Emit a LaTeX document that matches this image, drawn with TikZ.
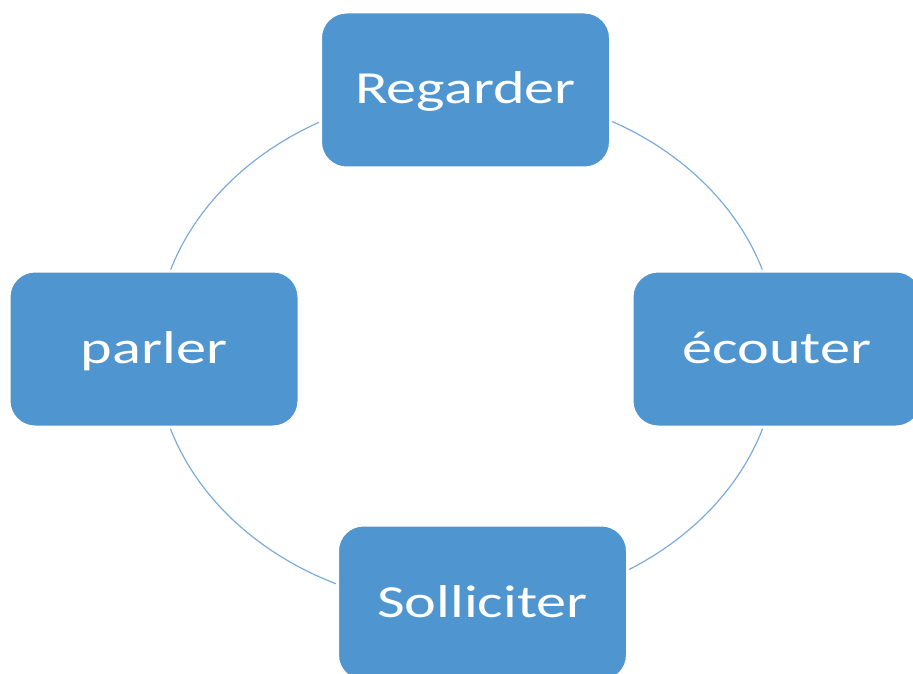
\documentclass[tikz,border=0pt]{standalone}
\usepackage{fontspec}
\usepackage{graphicx}
\setmainfont{Carlito}
\definecolor{boxblue}{RGB}{79,149,208}
\definecolor{ringblue}{RGB}{125,172,220}
\newcommand{\wide}[1]{\scalebox{1.31}[1]{#1}}
\tikzset{
  stage/.style={rectangle, rounded corners=26pt, fill=boxblue, draw=white, line width=3pt,
    minimum width=290pt, minimum height=156pt, inner sep=0pt,
    text=white, font=\fontsize{46}{50}\selectfont, text height=28pt, text depth=0pt},
  cycleline/.style={draw=ringblue, line width=1.2pt}
}
\begin{document}
\begin{tikzpicture}[x=1pt,y=-1pt]
\useasboundingbox (0,0) rectangle (913,674);
\clip (0,0) rectangle (913,674);
\coordinate (ctr) at (466.5,349.5);
\draw[cycleline] (ctr) ellipse [x radius=311, y radius=258];
\node[stage] (regarder) at (465.5,90) {\wide{Regarder}};
\node[stage] (ecouter) at (777,349) {\wide{écouter}};
\node[stage] (solliciter) at (482.5,603) {\wide{Solliciter}};
\node[stage] (parler) at (154,349) {\wide{parler}};
\end{tikzpicture}
\end{document}
